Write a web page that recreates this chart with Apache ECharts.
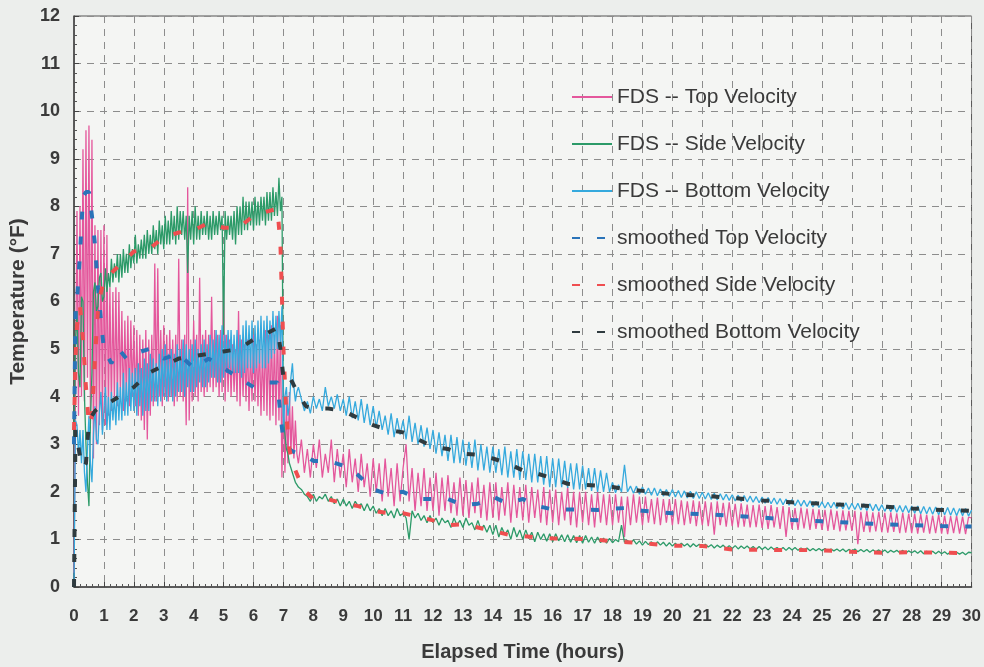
<!DOCTYPE html>
<html><head><meta charset="utf-8">
<script src="https://cdn.jsdelivr.net/npm/echarts@6/dist/echarts.min.js"></script>
<style>html,body{margin:0;padding:0;background:#eceeec;}#c{width:984px;height:667px;}</style>
</head><body><div id="c"></div>
<script>
// ---- sampling grids (hours) ----
const timeA = []; for (let i = 0; i <= 150; i++) timeA.push(+(i * 0.05).toFixed(2));   // 0.00 .. 7.50
const timeB = []; for (let i = 0; i <= 224; i++) timeB.push(+(7.6 + i * 0.1).toFixed(1)); // 7.6 .. 30.0
const fdsTime = timeA.concat(timeB);

// ---- FDS raw series ----
const fdsTopA = [
 0.3,4.2,7.9,3.6,8.0,4.0,9.2,3.9,9.6,4.4,9.7,3.5,9.4,2.7,7.6,3.0,7.5,3.4,7.5,3.3,
 7.6,3.4,7.4,3.6,6.3,3.7,6.2,3.9,6.3,3.8,6.2,4.0,5.8,3.7,5.6,3.9,5.7,3.8,5.6,4.0,
 5.5,3.8,5.4,3.6,5.3,3.5,5.2,3.3,5.4,3.1,5.2,3.6,5.3,3.8,6.8,3.9,6.7,4.0,5.4,3.8,
 5.5,4.0,5.3,3.9,5.4,4.0,5.2,3.8,5.3,3.9,6.9,4.0,5.2,3.9,5.3,3.4,8.4,3.5,5.2,3.9,
 5.6,4.0,5.3,3.9,6.5,4.1,5.3,4.0,5.4,4.1,5.3,4.2,6.1,4.1,5.4,4.2,5.3,4.0,5.4,4.1,
 6.5,3.9,5.3,4.1,5.2,4.0,5.1,4.1,5.0,3.9,5.8,3.8,5.2,4.0,5.1,3.9,5.2,3.7,5.0,3.9,
 5.3,3.9,5.1,3.8,5.2,3.6,5.0,3.7,5.4,3.6,5.3,3.5,5.5,3.6,5.3,3.4,5.7,3.5,5.5,2.3,
 4.2,2.4,3.9,2.6,4.1,2.8,3.8,2.7,3.5,2.8,2.6];
const fdsTopB = [3.1,2.4,2.9,2.3,
 3.0,2.5,3.1,2.3,2.8,2.4,3.1,2.2,2.9,2.3,
 2.8,2.1,2.9,2.2,2.7,2.0,2.8,2.1,2.6,1.9,
 2.7,2.0,2.6,1.8,2.7,1.9,2.5,1.7,2.6,1.8,
 2.5,3.0,1.8,2.5,1.6,2.4,1.7,2.5,1.6,2.3,
 1.6,2.4,1.5,2.3,1.6,2.35,1.55,2.2,1.5,2.3,
 1.5,2.25,1.45,2.2,1.55,2.3,1.45,2.15,1.4,2.2,
 1.45,2.2,1.4,2.1,1.5,2.2,1.35,2.15,1.45,2.1,
 1.4,2.15,1.35,2.1,1.45,2.05,1.35,2.1,1.3,2.05,
 1.35,2.05,1.3,2.0,1.4,2.1,1.3,2.0,1.25,2.0,
 1.35,2.0,1.3,1.95,1.25,2.0,1.35,1.95,1.3,1.95,
 1.3,1.95,1.35,1.9,1.05,1.9,1.3,1.95,1.35,1.9,
 1.3,1.9,1.35,1.85,1.32,1.88,1.3,1.85,1.35,1.85,
 1.3,1.85,1.32,1.82,1.3,1.8,1.33,1.82,1.28,1.8,
 1.3,1.8,1.28,1.78,1.1,1.8,1.3,1.77,1.27,1.78,
 1.28,1.75,1.25,1.76,1.27,1.73,1.25,1.72,1.26,1.73,
 1.24,1.7,1.22,1.72,1.25,1.68,1.22,1.7,1.05,1.68,
 1.22,1.66,1.2,1.67,1.23,1.65,1.2,1.64,1.22,1.63,
 1.2,1.62,1.18,1.63,1.2,1.6,1.17,1.61,1.19,1.6,
 1.18,1.6,0.9,1.58,1.16,1.6,1.15,1.57,1.17,1.58,
 1.15,1.56,1.14,1.57,1.16,1.55,1.13,1.56,1.14,1.54,
 1.13,1.54,1.12,1.53,1.14,1.52,1.12,1.5,1.13,1.52,
 1.12,1.5,1.11,1.49,1.13,1.5,1.12,1.48,1.11,1.47,
 1.45];
const fdsSideA = [
 3.0,5.2,5.8,4.5,4.2,6.1,6.0,4.0,3.0,2.2,1.7,3.5,4.5,6.2,6.4,5.8,5.9,6.5,6.6,6.0,
 6.1,6.7,6.2,6.6,6.3,6.9,6.4,6.8,6.5,7.0,6.4,7.0,6.5,7.1,6.6,7.0,6.6,7.2,6.7,7.1,
 6.8,7.4,6.8,7.2,6.9,7.3,6.9,7.4,6.9,7.5,7.0,7.4,7.0,7.6,7.1,7.5,7.0,7.7,7.2,7.6,
 7.1,7.8,7.2,7.7,7.2,7.9,7.3,7.8,7.2,8.0,7.3,7.9,7.4,7.9,7.3,7.8,6.6,7.8,7.3,7.9,
 7.2,8.0,7.3,7.8,7.3,7.9,7.4,7.8,7.4,7.9,7.3,7.8,7.3,7.9,7.4,7.8,7.4,7.9,7.5,7.8,
 5.3,7.9,7.3,7.8,7.4,7.8,7.3,7.9,7.2,8.0,7.4,8.0,7.4,8.2,7.5,8.1,7.5,8.1,7.6,8.1,
 7.5,8.2,7.6,8.1,7.6,8.2,7.7,8.2,7.6,8.3,7.7,8.3,7.7,8.4,7.8,8.3,7.8,8.6,7.9,8.2,
 3.6,3.2,2.9,2.8,2.6,2.5,2.4,2.3,2.2,2.15,2.1];
const fdsSideB = [2.05,1.95,1.9,1.8,
 1.95,1.8,1.9,1.85,1.95,1.8,1.9,1.75,1.85,1.7,
 1.85,1.7,1.8,1.65,1.8,1.7,1.75,1.6,1.75,1.6,
 1.7,1.55,1.65,1.5,1.65,1.5,1.6,1.45,1.65,1.5,
 1.55,1.45,1.0,1.6,1.45,1.55,1.4,1.5,1.35,1.5,
 1.35,1.45,1.3,1.45,1.35,1.4,1.25,1.45,1.3,1.4,
 1.25,1.45,1.3,1.35,1.2,1.4,1.2,1.3,1.15,1.3,
 1.1,1.3,1.05,1.25,1.1,1.2,1.0,1.25,1.05,1.2,
 1.0,1.2,1.02,1.15,0.95,1.15,1.0,1.12,0.96,1.12,
 0.95,1.12,0.97,1.1,0.95,1.1,0.94,1.08,0.93,1.08,
 0.92,1.08,0.94,1.05,0.92,1.05,0.93,1.03,0.92,1.02,
 0.93,1.0,0.95,1.3,0.94,0.98,0.92,0.99,0.9,0.97,
 0.88,0.96,0.89,0.95,0.87,0.95,0.88,0.94,0.86,0.93,
 0.86,0.92,0.85,0.92,0.86,0.91,0.84,0.91,0.85,0.9,
 0.83,0.9,0.84,0.89,0.82,0.88,0.83,0.88,0.81,0.87,
 0.81,0.87,0.8,0.86,0.81,0.86,0.8,0.85,0.79,0.85,
 0.79,0.84,0.78,0.84,0.79,0.83,0.78,0.83,0.77,0.83,
 0.78,0.83,0.77,0.82,0.77,0.82,0.76,0.81,0.76,0.81,
 0.76,0.81,0.75,0.8,0.76,0.8,0.75,0.8,0.74,0.79,
 0.75,0.8,0.74,0.79,0.74,0.79,0.73,0.78,0.74,0.78,
 0.73,0.78,0.72,0.77,0.73,0.77,0.72,0.77,0.71,0.76,
 0.72,0.76,0.71,0.76,0.7,0.75,0.71,0.75,0.7,0.75,
 0.7,0.74,0.69,0.74,0.7,0.73,0.69,0.73,0.68,0.73,
 0.72];
const fdsBottomA = [
 0.0,3.5,3.4,2.8,3.3,2.6,3.3,2.4,2.0,2.9,3.6,2.6,2.2,3.2,3.8,3.1,3.0,3.7,4.1,3.2,
 3.2,4.2,3.3,4.0,3.3,4.1,3.5,4.0,3.4,4.3,3.5,4.2,3.5,4.5,3.6,4.3,3.6,4.6,3.7,4.5,
 3.7,4.6,3.6,4.7,3.8,4.6,3.6,4.8,3.7,4.7,3.7,4.9,3.9,4.8,3.9,4.7,3.8,4.9,3.9,5.0,
 4.0,5.1,3.9,4.9,4.0,5.0,3.9,4.9,4.0,5.1,4.1,5.0,4.1,5.2,4.0,5.1,4.2,5.0,4.1,5.1,
 4.1,5.2,4.2,5.0,4.3,5.1,4.2,5.2,4.2,5.1,4.3,5.3,4.4,5.2,4.4,5.4,4.3,5.3,4.3,5.5,
 4.4,5.3,4.5,5.4,4.6,5.4,4.5,5.3,4.5,5.4,4.5,5.3,4.4,5.5,4.5,5.6,4.6,5.5,4.6,5.6,
 4.5,5.5,4.6,5.6,4.7,5.7,4.6,5.6,4.6,5.7,4.7,5.6,4.8,5.8,4.9,5.7,5.0,5.8,5.1,5.9,
 3.3,4.0,4.2,3.6,3.8,4.4,4.7,4.2,3.9,4.1,4.2];
const fdsBottomB = [3.95,3.7,3.9,3.65,
 4.0,3.75,3.95,3.7,4.2,3.8,4.0,3.75,4.05,3.7,
 3.95,3.6,4.0,3.55,3.9,3.5,3.95,3.45,3.85,3.4,
 3.8,3.35,3.7,3.3,3.6,3.2,3.65,3.15,3.55,3.2,
 3.5,3.1,3.6,3.05,3.45,3.0,3.4,2.95,3.35,2.9,
 3.3,2.8,3.25,2.75,3.2,2.65,3.2,2.6,3.15,2.6,
 3.1,2.55,3.05,2.5,3.1,2.45,3.0,2.45,2.95,2.4,
 2.95,2.4,2.9,2.35,2.95,2.3,2.85,2.3,2.9,2.25,
 2.85,2.25,2.8,2.2,2.8,2.2,2.75,2.15,2.75,2.1,
 2.7,2.1,2.7,2.1,2.65,2.08,2.6,2.05,2.6,2.05,
 2.55,2.05,2.5,2.02,2.5,2.0,2.45,2.0,2.4,2.0,
 2.2,1.98,2.15,2.0,2.57,2.0,2.12,1.97,2.12,1.95,
 2.1,1.95,2.08,1.93,2.08,1.92,2.06,1.91,2.05,1.9,
 2.05,1.89,2.03,1.88,2.02,1.87,2.01,1.86,2.0,1.86,
 1.99,1.85,1.98,1.84,1.97,1.83,1.96,1.83,1.95,1.82,
 1.94,1.81,1.93,1.8,1.92,1.79,1.91,1.78,1.9,1.77,
 1.89,1.76,1.88,1.75,1.87,1.74,1.86,1.73,1.85,1.72,
 1.84,1.71,1.83,1.7,1.82,1.69,1.81,1.68,1.8,1.67,
 1.79,1.66,1.78,1.66,1.78,1.65,1.77,1.64,1.77,1.63,
 1.76,1.63,1.76,1.62,1.75,1.61,1.75,1.6,1.74,1.6,
 1.73,1.59,1.72,1.58,1.72,1.57,1.71,1.57,1.71,1.56,
 1.7,1.55,1.7,1.54,1.69,1.54,1.68,1.53,1.68,1.52,
 1.67,1.52,1.67,1.51,1.66,1.5,1.65,1.5,1.65,1.49,
 1.62];
const fdsTop = fdsTopA.concat(fdsTopB);
const fdsSide = fdsSideA.concat(fdsSideB);
const fdsBottom = fdsBottomA.concat(fdsBottomB);

// ---- smoothed series ----
const smTime = [0,0.05,0.1,0.2,0.3,0.4,0.5,0.6,0.7,0.8,0.9,1.0,
 1.25,1.5,1.75,2.0,
 2.5,3.0,3.5,4.0,4.5,5.0,5.5,6.0,6.5,
 6.8,6.9,7.0,7.1,7.2,7.3,7.5,7.75,8.0,
 8.5,9,9.5,10,10.5,11,11.5,12,12.5,13,13.5,14,14.5,15,15.5,16,16.5,17,17.5,18,18.5,19,
 20,21,22,23,24,25,26,27,28,29,30];
const smTop = [3.0,5.8,6.0,7.0,8.2,8.3,8.3,7.8,7.2,6.3,5.6,5.0,
 4.7,5.0,4.8,4.9,
 5.0,4.8,4.9,4.6,4.8,4.6,4.4,4.2,4.3,
 4.3,3.6,3.1,3.0,2.9,2.85,2.8,2.75,2.65,
 2.65,2.55,2.35,2.05,1.95,2.0,1.85,1.85,1.85,1.72,1.75,1.9,1.75,1.85,1.7,1.63,1.63,1.63,1.62,1.65,1.66,1.6,
 1.55,1.53,1.5,1.46,1.41,1.38,1.35,1.32,1.3,1.28,1.27];
const smSide = [3.3,4.8,5.5,5.9,5.2,4.2,3.4,3.6,4.8,5.8,6.2,6.4,
 6.6,6.75,6.9,7.05,
 7.1,7.35,7.45,7.5,7.65,7.55,7.55,7.8,7.9,
 7.95,7.2,5.0,3.6,2.9,2.6,2.3,2.0,1.85,
 1.84,1.76,1.7,1.6,1.55,1.55,1.48,1.4,1.3,1.32,1.25,1.18,1.1,1.07,1.04,1.02,1.02,1.01,0.99,0.96,0.94,0.92,
 0.87,0.86,0.79,0.78,0.78,0.77,0.74,0.72,0.73,0.72,0.71];
const smBottom = [0.0,3.3,3.3,2.75,2.5,2.6,3.5,3.6,3.7,3.75,3.8,3.8,
 3.9,4.0,4.1,4.2,
 4.5,4.65,4.8,4.85,4.9,4.95,5.0,5.2,5.35,
 5.45,5.0,4.4,4.3,4.4,4.3,4.05,3.8,3.75,
 3.75,3.7,3.55,3.4,3.3,3.25,3.1,2.95,2.9,2.8,2.78,2.7,2.6,2.45,2.38,2.28,2.17,2.15,2.13,2.1,2.05,2.02,
 1.95,1.92,1.87,1.82,1.78,1.75,1.72,1.69,1.65,1.62,1.6];

const seriesNames = ['FDS -- Top Velocity','FDS -- Side Velocity','FDS -- Bottom Velocity',
 'smoothed Top Velocity','smoothed Side Velocity','smoothed Bottom Velocity'];

const pair = (t, v) => t.map((x, i) => [x, v[i]]);
const FONT = '"Liberation Sans", Arial, sans-serif';

function rawSeries(name, t, v, color) {
  return { name, type: 'line', data: pair(t, v), symbol: 'none', showSymbol: false,
    lineStyle: { color, width: 1.3 }, itemStyle: { color }, emphasis: { disabled: true } };
}
function smSeries(name, t, v, color) {
  return { name, type: 'line', data: pair(t, v), symbol: 'none', showSymbol: false,
    lineStyle: { color, width: 4, type: [8, 17], cap: 'butt' }, itemStyle: { color }, emphasis: { disabled: true } };
}

const chart = echarts.init(document.getElementById('c'), null, { renderer: 'canvas' });
chart.setOption({
  animation: false,
  backgroundColor: '#eceeec',
  grid: { left: 74, right: 12, top: 16, bottom: 76, show: true, backgroundColor: '#f4f5f3', borderColor: '#555', borderWidth: 1 },
  legend: {
    orient: 'vertical', left: 566, top: 80, itemWidth: 40, itemHeight: 14, itemGap: 23,
    selectedMode: false, data: seriesNames,
    itemStyle: { opacity: 0 },
    textStyle: { fontFamily: FONT, fontSize: 21, color: '#3a3a3a', lineHeight: 24 }
  },
  xAxis: {
    type: 'value', min: 0, max: 30, interval: 1,
    name: 'Elapsed Time (hours)', nameLocation: 'middle', nameGap: 55,
    nameTextStyle: { fontFamily: FONT, fontWeight: 'bold', fontSize: 20, color: '#3a3a3a' },
    axisLine: { show: true, lineStyle: { color: '#444', width: 1.5 } },
    axisTick: { show: true, inside: true, length: 5, lineStyle: { color: '#444' } },
    minorTick: { show: true, splitNumber: 5, length: 3, lineStyle: { color: '#555' } },
    axisLabel: { fontFamily: FONT, fontWeight: 'bold', fontSize: 17, color: '#3a3a3a', margin: 21 },
    splitLine: { show: true, lineStyle: { color: '#8c8c8c', width: 1, type: [7, 6] } }
  },
  yAxis: {
    type: 'value', min: 0, max: 12, interval: 1,
    name: 'Temperature (°F)', nameLocation: 'middle', nameGap: 43, nameRotate: 90,
    nameTextStyle: { fontFamily: FONT, fontWeight: 'bold', fontSize: 21, color: '#3a3a3a' },
    axisLine: { show: true, lineStyle: { color: '#444', width: 1.5 } },
    axisTick: { show: true, inside: true, length: 5, lineStyle: { color: '#444' } },
    minorTick: { show: true, splitNumber: 5, length: 3, lineStyle: { color: '#555' } },
    axisLabel: { fontFamily: FONT, fontWeight: 'bold', fontSize: 18, color: '#3a3a3a', margin: 14 },
    splitLine: { show: true, lineStyle: { color: '#8c8c8c', width: 1, type: [7, 6] } }
  },
  series: [
    rawSeries(seriesNames[0], fdsTime, fdsTop, '#e4579c'),
    rawSeries(seriesNames[1], fdsTime, fdsSide, '#2c9a68'),
    rawSeries(seriesNames[2], fdsTime, fdsBottom, '#35a9dd'),
    smSeries(seriesNames[3], smTime, smTop, '#2a73b8'),
    smSeries(seriesNames[4], smTime, smSide, '#ef4e50'),
    smSeries(seriesNames[5], smTime, smBottom, '#2f3b3f')
  ]
});
</script></body></html>
